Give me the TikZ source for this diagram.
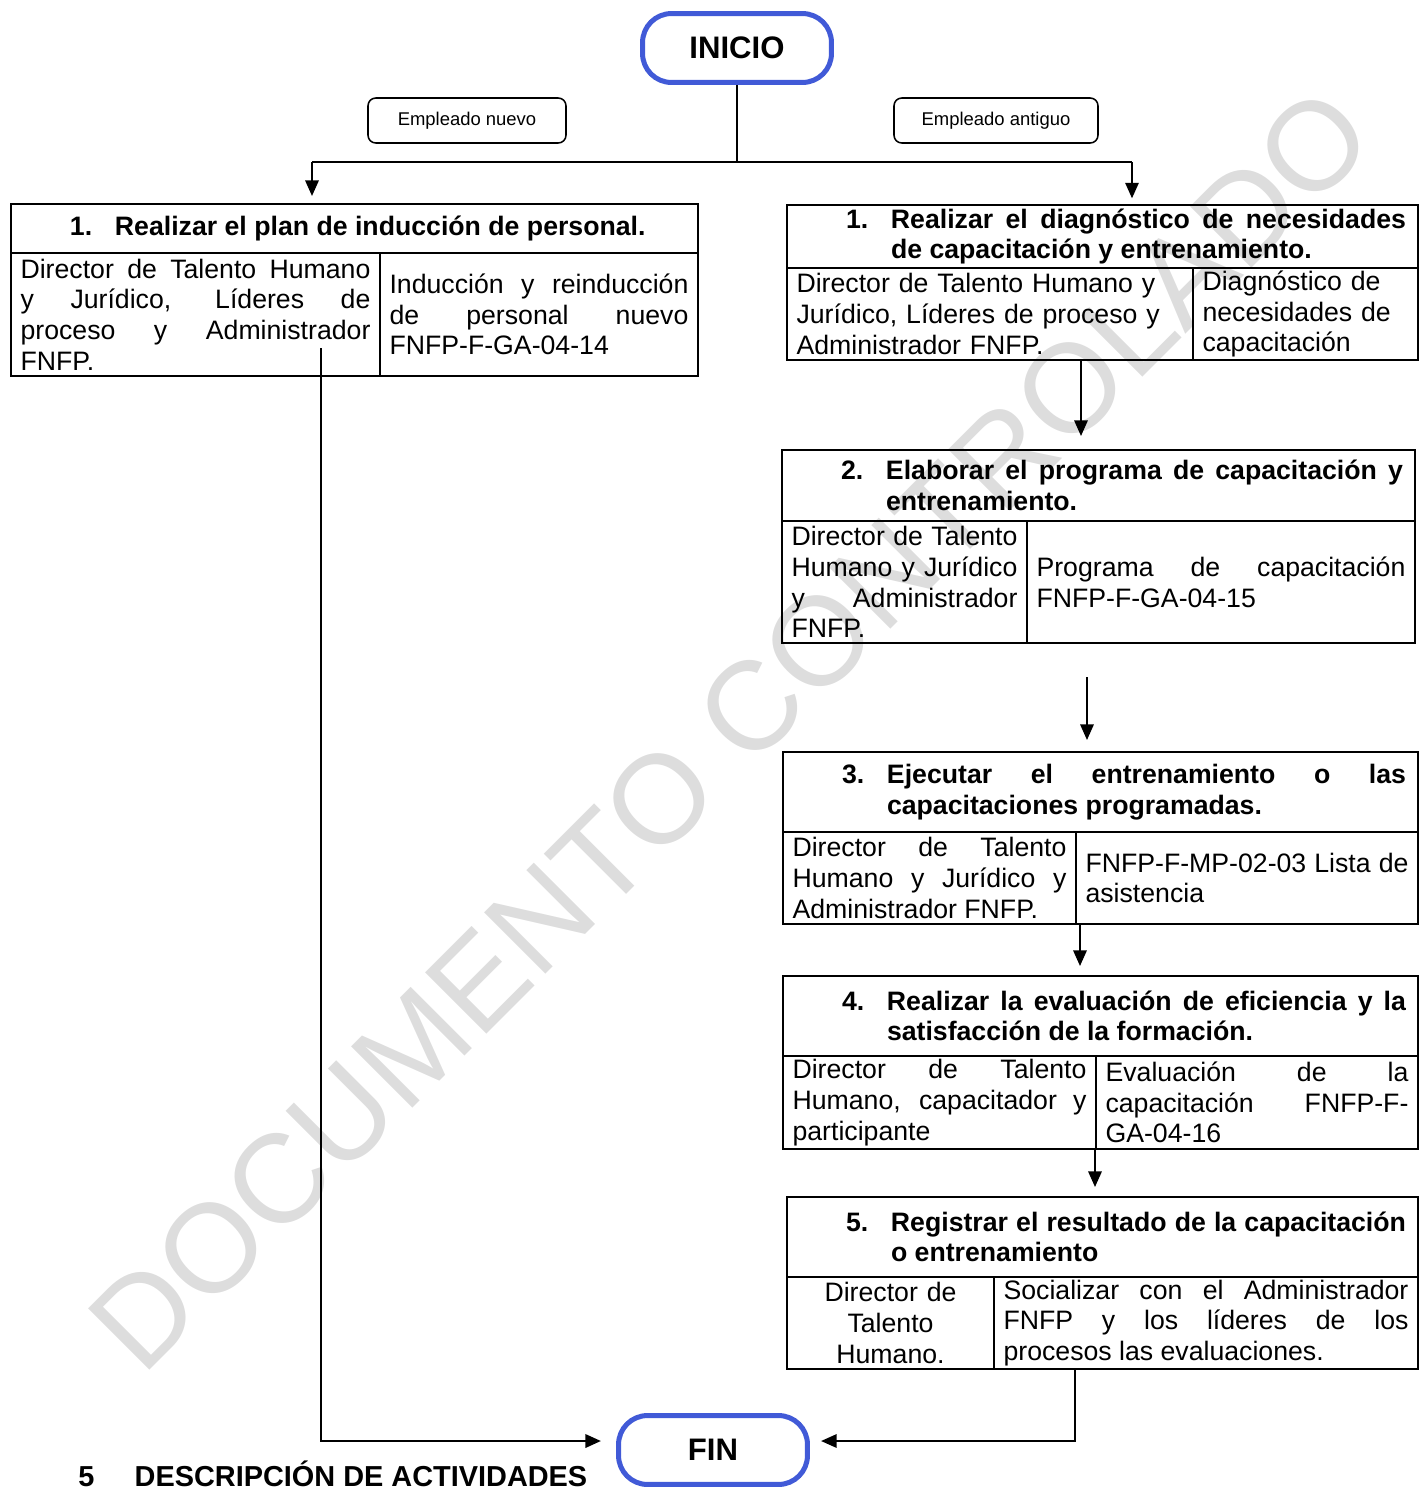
\documentclass[tikz,border=0pt]{standalone}
\usepackage{fontspec}
\setmainfont{Liberation Sans}
\usepackage{tikz}
\usetikzlibrary{
    positioning,
    arrows.meta,
    calc
}
\definecolor{azulterminal}{RGB}{65,90,215}
\definecolor{marca}{RGB}{221,221,221}
\hyphenpenalty=10000
\exhyphenpenalty=10000
\tolerance=10000
\hbadness=10000
% numero de paso con sangria francesa
\newcommand{\paso}[2]{\noindent\makebox[41.4pt][r]{\makebox[20.25pt][l]{#1}}%
    \parbox[t]{\dimexpr\linewidth-41.4pt\relax}{\spaceskip=0pt\xspaceskip=0pt #2}}
\tikzset{
    celda/.style={draw, line width=0.9pt, anchor=north west, outer sep=0pt,
        inner xsep=4.3pt, inner ysep=0pt, font=\fontsize{12}{13.8}\selectfont},
    titulo/.style={celda, inner xsep=5.4pt, align=justify,
        font=\fontsize{12}{13.8}\selectfont\bfseries},
    terminal/.style={draw=azulterminal, line width=2.25pt, rounded corners=13pt,
        minimum width=85pt, minimum height=31pt, font=\fontsize{14}{16}\selectfont\bfseries},
    etiqueta/.style={draw, line width=0.7pt, rounded corners=3.5pt,
        minimum height=20.25pt, font=\fontsize{8.3}{10}\selectfont},
    flecha/.style={line width=0.9pt, -{Triangle[length=7pt,width=6pt]}}
}
\begin{document}
\begin{tikzpicture}[x=0.45pt, y=-0.45pt]
    \useasboundingbox (0,0) rectangle (1422,1487);
    % marca de agua
    \node[rotate=45, text=marca, font=\fontsize{56.7}{60}\selectfont] (marcaagua) at (730,729) {DOCUMENTO CONTROLADO};

    \node[terminal] (inicio) at (737,48) {INICIO};
    \node[etiqueta, minimum width=89.1pt] (nuevo) at (467,120.5) {Empleado nuevo};
    \node[etiqueta, minimum width=91.8pt] (antiguo) at (996,120.5) {Empleado antiguo};

    % empleado nuevo
    \node[titulo, text width=298.35pt, minimum height=22.05pt] (t1L) at (11,204) {\paso{1.}{Realizar el plan de inducción de personal.}};
    \node[celda, align=justify, text width=157.45pt, minimum height=55.35pt] (c1La) at (t1L.south west) {Director de Talento Humano\linebreak y Jurídico, Líderes de\linebreak proceso y Administrador\linebreak FNFP.};
    \node[celda, align=justify, text width=134.5pt, minimum height=55.35pt] (c1Lb) at (c1La.north east) {Inducción y reinducción\linebreak de personal nuevo\linebreak FNFP-F-GA-04-14};

    % empleado antiguo
    \node[titulo, text width=273.15pt, minimum height=28.35pt] (t1R) at (787,205) {\paso{1.}{Realizar el diagnóstico de necesidades\linebreak de capacitación y entrenamiento.}};
    \node[celda, align=left, text width=174.1pt, minimum height=41.4pt] (c1Ra) at (t1R.south west) {Director de Talento Humano y\\ Jurídico, Líderes de proceso y\\ Administrador FNFP.};
    \node[celda, align=left, text width=92.65pt, minimum height=41.4pt] (c1Rb) at (c1Ra.north east) {Diagnóstico de\\ necesidades de\\ capacitación};

    \node[titulo, text width=274.05pt, minimum height=31.95pt] (t2) at (782,450) {\paso{2.}{Elaborar el programa de capacitación y\linebreak entrenamiento.}};
    \node[celda, align=justify, text width=101.65pt, minimum height=54.9pt] (c2a) at (t2.south west) {Director de Talento\linebreak Humano y Jurídico\linebreak y Administrador\linebreak FNFP.};
    \node[celda, align=justify, text width=166pt, minimum height=54.9pt] (c2b) at (c2a.north east) {Programa de capacitación\linebreak FNFP-F-GA-04-15};

    \node[titulo, text width=274.95pt, minimum height=36pt] (t3) at (783,752) {\paso{3.}{Ejecutar el entrenamiento o las\linebreak capacitaciones programadas.}};
    \node[celda, align=justify, text width=123.25pt, minimum height=41.4pt] (c3a) at (t3.south west) {Director de Talento\linebreak Humano y Jurídico y\linebreak Administrador FNFP.};
    \node[celda, align=justify, text width=145.3pt, minimum height=41.4pt] (c3b) at (c3a.north east) {FNFP-F-MP-02-03 Lista de\linebreak asistencia};

    \node[titulo, text width=274.95pt, minimum height=36pt] (t4) at (783,976) {\paso{4.}{Realizar la evaluación de eficiencia y la\linebreak satisfacción de la formación.}};
    \node[celda, align=justify, text width=132.25pt, minimum height=41.85pt] (c4a) at (t4.south west) {Director de Talento\linebreak Humano, capacitador y\linebreak participante};
    \node[celda, align=justify, text width=136.3pt, minimum height=41.85pt] (c4b) at (c4a.north east) {Evaluación de la\linebreak capacitación FNFP-F-\linebreak GA-04-16};

    \node[titulo, text width=273.15pt, minimum height=36pt] (t5) at (787,1197) {\paso{5.}{Registrar el resultado de la capacitación\linebreak o entrenamiento}};
    \node[celda, align=center, text width=84.55pt, minimum height=41.4pt] (c5a) at (t5.south west) {Director de\\ Talento\\ Humano.};
    \node[celda, align=justify, text width=182.2pt, minimum height=41.4pt] (c5b) at (c5a.north east) {Socializar con el Administrador\linebreak FNFP y los líderes de los\linebreak procesos las evaluaciones.};

    \node[terminal] (fin) at (713,1450) {FIN};
    \node[anchor=base west, inner sep=0pt, font=\fontsize{13}{15}\selectfont\bfseries] (seccion) at (78,1486) {\makebox[25.3pt][l]{5}DESCRIPCIÓN DE ACTIVIDADES};

    % conectores
    \coordinate (rama) at (737,162);
    \coordinate (izq) at (312,162);
    \coordinate (der) at (1132,162);
    \draw[line width=0.9pt] (inicio) -- (rama);
    \draw[line width=1.3pt] (izq) -- (der);
    \draw[flecha, shorten >=3.6pt] (izq) -- (izq |- t1L.north);
    \draw[flecha, shorten >=3pt] (der) -- (der |- t1R.north);

    \coordinate (x2) at (1081,0);
    \coordinate (x3) at (1087,677);
    \coordinate (x4) at (1080,0);
    \coordinate (x5) at (1095,0);
    \draw[flecha, shorten >=6.3pt] (x2 |- c1Ra.south) -- (x2 |- t2.north);
    \draw[flecha, shorten >=5.4pt] (x3) -- (x3 |- t3.north);
    \draw[flecha, shorten >=4.5pt] (x4 |- c3b.south) -- (x4 |- t4.north);
    \draw[flecha, shorten >=4.5pt] (x5 |- c4b.south) -- (x5 |- t5.north);

    \coordinate (k0) at (321,348);
    \coordinate (k1) at (321,1441);
    \coordinate (k5) at (1075,1441);
    \draw[flecha, line width=1.1pt, shorten >=6.8pt] (k0) -- (k1) -- (k1 -| fin.west);
    \draw[flecha, shorten >=5pt] (k5 |- c5b.south) -- (k5) -- (k5 -| fin.east);
\end{tikzpicture}
\end{document}
